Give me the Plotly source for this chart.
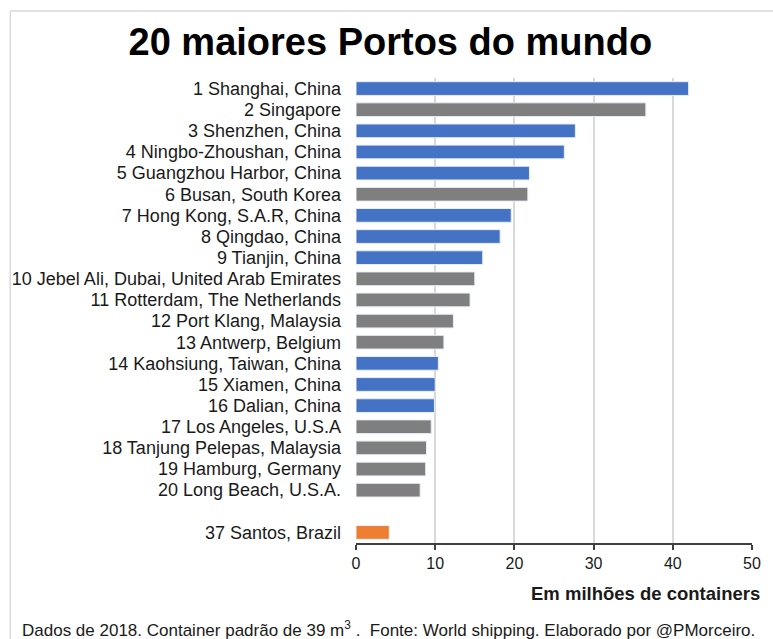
import plotly.graph_objects as go

ports = [
    "1 Shanghai, China", "2 Singapore", "3 Shenzhen, China", "4 Ningbo-Zhoushan, China",
    "5 Guangzhou Harbor, China", "6 Busan, South Korea", "7 Hong Kong, S.A.R, China",
    "8 Qingdao, China", "9 Tianjin, China", "10 Jebel Ali, Dubai, United Arab Emirates",
    "11 Rotterdam, The Netherlands", "12 Port Klang, Malaysia", "13 Antwerp, Belgium",
    "14 Kaohsiung, Taiwan, China", "15 Xiamen, China", "16 Dalian, China",
    "17 Los Angeles, U.S.A", "18 Tanjung Pelepas, Malaysia", "19 Hamburg, Germany",
    "20 Long Beach, U.S.A.", "37 Santos, Brazil",
]
values = [42.0, 36.6, 27.7, 26.3, 21.9, 21.7, 19.6, 18.2, 16.0, 15.0,
          14.4, 12.3, 11.1, 10.4, 10.0, 9.9, 9.5, 8.9, 8.8, 8.1, 4.2]
groups = ["china", "other", "china", "china", "china", "other", "china", "china", "china", "other",
          "other", "other", "other", "china", "china", "china", "other", "other", "other", "other",
          "brazil"]
spacer = " "
x_ticks = [0, 10, 20, 30, 40, 50]

color_map = {"china": "#4472C4", "other": "#7F7F7F", "brazil": "#ED7D31"}
colors = [color_map[g] for g in groups]

category_order = ports[:20] + [spacer] + ports[20:]

fig = go.Figure(go.Bar(
    x=values, y=ports, orientation="h",
    marker=dict(color=colors, line=dict(color="#E8EEF8", width=1)),
    width=0.65,
    hoverinfo="x+y",
))

fig.update_layout(
    width=773, height=639,
    margin=dict(l=356, r=19, t=78, b=96),
    paper_bgcolor="white", plot_bgcolor="white",
    font=dict(family="Liberation Sans, Arial, sans-serif", color="#000000"),
    showlegend=False,
    title=dict(text="<b>20 maiores Portos do mundo</b>", x=0.505, xanchor="center",
               y=0.935, yanchor="middle",
               font=dict(size=38, family="Liberation Sans, Arial, sans-serif", color="#000000")),
)

fig.update_yaxes(
    type="category", categoryorder="array", categoryarray=category_order[::-1],
    range=[-0.5, len(category_order) - 0.5],
    tickmode="array", tickvals=ports, ticktext=ports,
    showgrid=False, showline=False, zeroline=False,
    ticks="", ticklabelstandoff=14,
    tickfont=dict(size=18, color="#1a1a1a"),
)
fig.update_xaxes(
    range=[0, 50], tickvals=x_ticks, ticktext=[str(t) for t in x_ticks],
    showgrid=True, gridcolor="#D9D9D9", gridwidth=1.5,
    showline=True, linecolor="#404040", linewidth=1.5,
    ticks="outside", ticklen=5, tickcolor="#404040", tickwidth=1.5,
    zeroline=False,
    tickfont=dict(size=16, color="#1a1a1a"),
)

# axis title (bold, right aligned)
fig.add_annotation(text="<b>Em milhões de containers</b>", xref="paper", yref="paper",
                   x=1.025, y=-0.108, xanchor="right", yanchor="middle", showarrow=False,
                   font=dict(size=18.5, color="#1a1a1a"))
# footer
fig.add_annotation(text="Dados de 2018. Container padrão de 39 m<sup>3</sup> .  Fonte: World shipping. Elaborado por @PMorceiro.",
                   xref="paper", yref="paper", x=-0.848, y=-0.212, xanchor="left", yanchor="bottom",
                   showarrow=False, font=dict(size=17, color="#1a1a1a"))

# chart area border (partially visible)
fig.add_shape(type="line", xref="paper", yref="paper", x0=-0.873, x1=-0.873, y0=-0.3, y1=1.144,
              line=dict(color="#D9D9D9", width=1.5))
fig.add_shape(type="line", xref="paper", yref="paper", x0=-0.873, x1=1.1, y0=1.144, y1=1.144,
              line=dict(color="#D9D9D9", width=1.5))

fig.write_html("out.html")
